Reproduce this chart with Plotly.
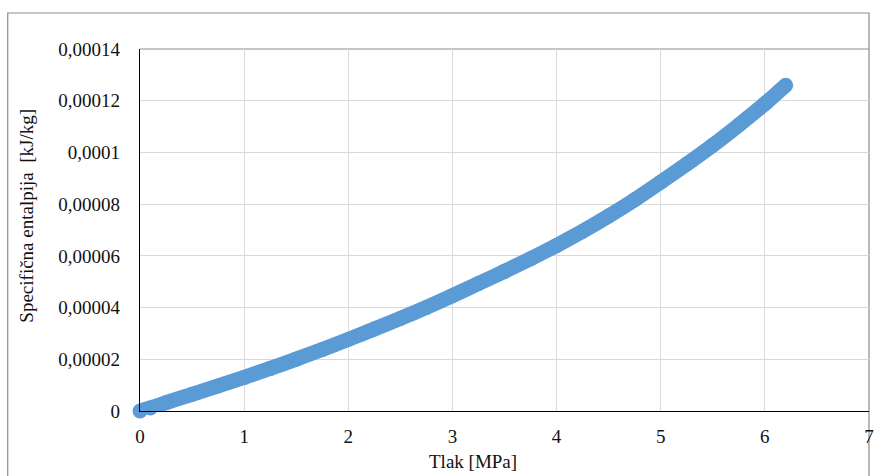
import plotly.graph_objects as go

# Data
pressure_mpa = [0, 0.1, 0.25, 0.5, 0.75, 1, 1.25, 1.5, 1.75, 2, 2.25, 2.5, 2.75, 3,
                3.25, 3.5, 3.75, 4, 4.25, 4.5, 4.75, 5, 5.25, 5.5, 5.75, 6, 6.2]
enthalpy = [0, 0.12e-5, 0.32e-5, 0.645e-5, 0.97e-5, 1.3e-5, 1.645e-5, 2.005e-5, 2.38e-5,
            2.77e-5, 3.17e-5, 3.58e-5, 4.005e-5, 4.46e-5, 4.93e-5, 5.4e-5, 5.89e-5, 6.4e-5,
            6.95e-5, 7.54e-5, 8.17e-5, 8.85e-5, 9.55e-5, 10.28e-5, 11.06e-5, 11.88e-5, 12.6e-5]

x_ticks = [0, 1, 2, 3, 4, 5, 6, 7]
y_ticks = [0, 0.00002, 0.00004, 0.00006, 0.00008, 0.0001, 0.00012, 0.00014]
y_tick_labels = ["0", "0,00002", "0,00004", "0,00006", "0,00008", "0,0001", "0,00012", "0,00014"]

x_title = "Tlak [MPa]"
y_title = "Specifična entalpija  [kJ/kg]"

FONT = "Liberation Serif, Times New Roman, serif"
TXT = "#111111"
BLUE = "#5b9bd5"

fig = go.Figure()
fig.add_trace(go.Scatter(
    x=pressure_mpa, y=enthalpy, mode="lines+markers",
    line=dict(color=BLUE, width=15, shape="spline", smoothing=0.5),
    marker=dict(color=BLUE, size=15, line=dict(width=0)),
    cliponaxis=False,
    showlegend=False, hoverinfo="x+y",
))

W, H = 886, 476
ml, mr, mt, mb = 140, 13, 49, 65
pw, ph = W - ml - mr, H - mt - mb

def px(xp):
    return (xp - ml) / pw

def py(yp):
    return (H - mb - yp) / ph

fig.update_layout(
    width=W, height=H,
    margin=dict(l=ml, r=mr, t=mt, b=mb, pad=0),
    paper_bgcolor="white", plot_bgcolor="white",
    font=dict(family=FONT, size=19, color=TXT),
    xaxis=dict(
        range=[0, 7], tickvals=x_ticks, ticktext=[str(v) for v in x_ticks],
        showgrid=True, gridcolor="#d9d9d9", gridwidth=1,
        showline=True, linecolor="black", linewidth=1.3,
        ticks="outside", ticklen=8, tickcolor="rgba(0,0,0,0)",
        zeroline=False, fixedrange=True,
        tickfont=dict(family=FONT, size=19, color=TXT),
    ),
    yaxis=dict(
        range=[0, 0.00014], tickvals=y_ticks, ticktext=y_tick_labels,
        showgrid=True, gridcolor="#d9d9d9", gridwidth=1,
        showline=True, linecolor="black", linewidth=1.3,
        ticks="outside", ticklen=15, tickcolor="rgba(0,0,0,0)",
        zeroline=False, fixedrange=True,
        tickfont=dict(family=FONT, size=19, color=TXT),
    ),
    shapes=[
        # outer chart border
        dict(type="rect", xref="paper", yref="paper",
             x0=px(7), x1=px(873), y0=py(490), y1=py(13),
             line=dict(color="#8c8c8c", width=1.2), fillcolor="rgba(0,0,0,0)", layer="below"),
        # darker top line of plot area
        dict(type="line", xref="paper", yref="paper",
             x0=0, x1=1, y0=1, y1=1,
             line=dict(color="#8c8c8c", width=1.2), layer="below"),
    ],
    annotations=[
        dict(text=x_title, xref="paper", yref="paper", x=px(475), y=py(462),
             xanchor="center", yanchor="middle", showarrow=False,
             font=dict(family=FONT, size=19, color=TXT)),
        dict(text=y_title, xref="paper", yref="paper", x=px(25), y=py(216),
             xanchor="center", yanchor="middle", textangle=-90, showarrow=False,
             font=dict(family=FONT, size=19, color=TXT)),
    ],
)

fig.write_html(
    "out.html",
    config={"displayModeBar": False},
    post_script="document.body.style.margin='0px';document.body.style.overflow='hidden';",
)
